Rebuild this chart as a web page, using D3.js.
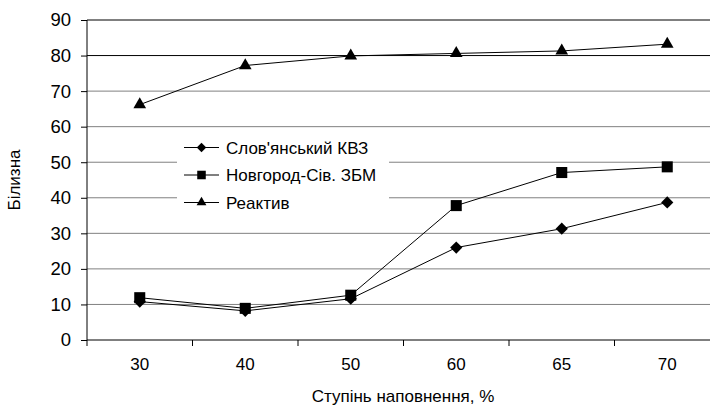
<!DOCTYPE html>
<html>
  <head>
    <meta charset="utf-8">
    <script src="https://cdn.jsdelivr.net/npm/d3@7"></script>
    <style>
        body { margin:0; background:#fff; }
        svg { display:block; font-family: "Liberation Sans", Arial, sans-serif; }
    </style>
  </head>
  <body>
    <script>
      // data
      var categories = ["30", "40", "50", "60", "65", "70"];
      var slovKVZ   = [10.8, 8.2, 11.6, 26.0, 31.3, 38.7];
      var novgorod  = [11.9, 8.9, 12.6, 37.8, 47.1, 48.7];
      var reaktyv   = [66.2, 77.2, 79.9, 80.6, 81.3, 83.2];
      var seriesNames = ["Слов'янський КВЗ", "Новгород-Сів. ЗБМ", "Реактив"];
      var yTicks = [0, 10, 20, 30, 40, 50, 60, 70, 80, 90];

      var width = 710, height = 406;
      var plotLeft = 87, plotTop = 20, plotBottom = 340, band = 105.5;
      var fontSize = 17;

      var svg = d3.select("body").append("svg")
          .attr("width", width)
          .attr("height", height);

      var x = d3.scaleBand()
          .domain(categories)
          .range([plotLeft, plotLeft + band * categories.length]);

      var y = d3.scaleLinear()
          .domain([0, 90])
          .range([plotBottom, plotTop]);

      // gridlines
      svg.append("g").selectAll("line")
        .data(yTicks.filter(function(d) { return d > 0; }))
        .enter().append("line")
          .attr("x1", plotLeft)
          .attr("x2", x.range()[1])
          .attr("y1", function(d) { return y(d); })
          .attr("y2", function(d) { return y(d); })
          .attr("stroke", function(d) { return d >= 80 ? "#000" : "#808080"; })
          .attr("stroke-width", 1);

      // y axis
      var yAxis = svg.append("g")
          .attr("transform", "translate(" + plotLeft + ",0)")
          .call(d3.axisLeft(y).tickValues(yTicks).tickSize(6).tickPadding(10));
      yAxis.selectAll("text").attr("font-size", 18.5).attr("fill", "#000").attr("font-family", "Liberation Sans, Arial, sans-serif");
      yAxis.selectAll("line, path").attr("stroke", "#000");
      yAxis.select(".domain").attr("d", "M0," + plotTop + "V" + plotBottom);

      // x axis: labels in band centres, ticks at band edges
      var xAxis = svg.append("g")
          .attr("transform", "translate(0," + plotBottom + ")")
          .call(d3.axisBottom(x).tickSize(0).tickPadding(18));
      xAxis.selectAll("text").attr("font-size", fontSize).attr("fill", "#000").attr("font-family", "Liberation Sans, Arial, sans-serif");
      xAxis.select(".domain").attr("stroke", "#000").attr("d", "M" + plotLeft + ",0H" + x.range()[1]);
      xAxis.selectAll(".edge")
        .data(categories)
        .enter().append("line")
          .attr("class", "edge")
          .attr("x1", function(d) { return x(d); })
          .attr("x2", function(d) { return x(d); })
          .attr("y1", 0)
          .attr("y2", 6)
          .attr("stroke", "#000");

      // series
      var series = [
        { name: seriesNames[0], values: slovKVZ,  symbol: d3.symbolDiamond2, size: 95 },
        { name: seriesNames[1], values: novgorod, symbol: d3.symbolSquare2,  size: 155 },
        { name: seriesNames[2], values: reaktyv,  symbol: d3.symbolTriangle2, size: 115 }
      ];

      var line = d3.line()
          .x(function(d, i) { return x(categories[i]) + x.bandwidth() / 2; })
          .y(function(d) { return y(d); });

      series.forEach(function(s) {
          svg.append("path")
              .attr("d", line(s.values))
              .attr("fill", "none")
              .attr("stroke", "#000")
              .attr("stroke-width", 1);
      });
      series.forEach(function(s) {
          svg.append("g").selectAll("path")
            .data(s.values)
            .enter().append("path")
              .attr("transform", function(d, i) {
                  return "translate(" + (x(categories[i]) + x.bandwidth() / 2) + "," + y(d) + ")";
              })
              .attr("d", d3.symbol().type(s.symbol).size(s.size))
              .attr("fill", "#000");
      });

      // legend
      var legend = svg.append("g");
      legend.append("rect")
          .attr("x", 177).attr("y", 131)
          .attr("width", 212).attr("height", 84)
          .attr("fill", "#fff");
      series.forEach(function(s, i) {
          var ly = 147.5 + i * 27.5;
          legend.append("line")
              .attr("x1", 184).attr("x2", 219)
              .attr("y1", ly).attr("y2", ly)
              .attr("stroke", "#000");
          legend.append("path")
              .attr("transform", "translate(201.5," + ly + ")")
              .attr("d", d3.symbol().type(s.symbol).size(s.size * 0.6))
              .attr("fill", "#000");
          legend.append("text")
              .attr("x", 226).attr("y", ly + 6)
              .attr("font-size", fontSize)
              .text(s.name);
      });

      // axis titles
      svg.append("text")
          .attr("x", 403)
          .attr("y", 402)
          .attr("text-anchor", "middle")
          .attr("font-size", fontSize)
          .text("Ступінь наповнення, %");

      svg.append("text")
          .attr("transform", "translate(20," + ((plotTop + plotBottom) / 2) + ") rotate(-90)")
          .attr("text-anchor", "middle")
          .attr("font-size", fontSize)
          .text("Білизна");
    </script>
  </body>
</html>
